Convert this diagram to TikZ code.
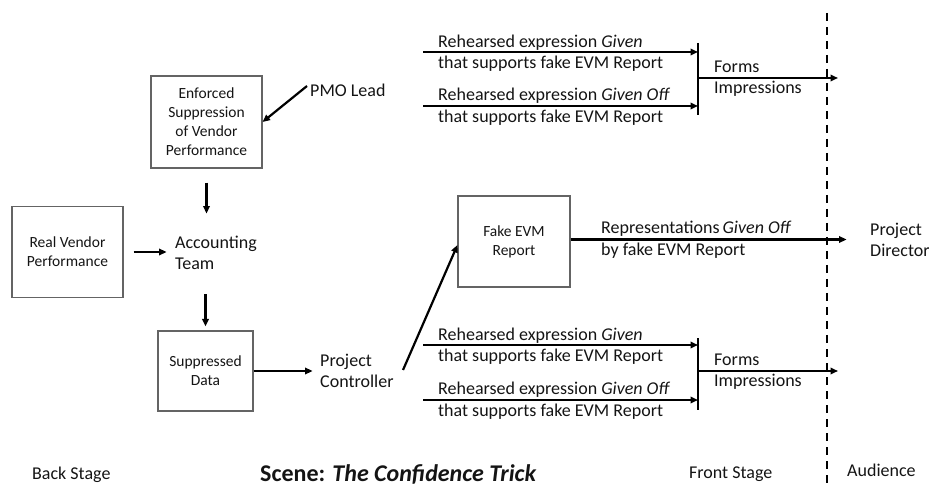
\documentclass[tikz,border=0pt]{standalone}
\usepackage{fontspec}
\setmainfont{Carlito}
\usetikzlibrary{arrows.meta,calc}
\definecolor{boxgray}{RGB}{100,100,100}
\definecolor{txt}{RGB}{20,20,20}
\begin{document}
\begin{tikzpicture}[x=1pt,y=-1pt,
  big/.style={font=\fontsize{18}{21.5}\selectfont, text=txt, inner sep=0pt, align=left, anchor=west},
  box/.style={draw=boxgray, line width=1.1pt, font=\fontsize{15.5}{19}\selectfont, text=txt, align=center, inner sep=0pt},
  arr/.style={line width=2.2pt, -{Triangle[length=7.5pt,width=6.5pt]}},
  bar/.style={line width=2.4pt},
]
\useasboundingbox (0,0) rectangle (929,486);

% boxes
\node[box, minimum width=111pt, minimum height=92pt] (enf) at (206.5,122) {Enforced\\Suppression\\of Vendor\\Performance};
\node[box, minimum width=111pt, minimum height=91pt] (real) at (67.5,252) {Real Vendor\\Performance};
\node[box, minimum width=95pt, minimum height=80pt] (supp) at (205.5,371) {Suppressed\\Data};
\node[box, minimum width=112pt, minimum height=91pt] (fake) at (514,241.5) {Fake EVM\\Report};

% plain text nodes
\node[big] (pmo) at (310,90) {PMO Lead};
\node[big] (acct) at (175,253) {Accounting\\Team};
\node[big] (ctrl) at (320,371) {Project\\Controller};
\node[big] (reh1) at (438,53) {Rehearsed expression \textit{Given}\\that supports fake EVM Report};
\node[big] (reh2) at (438,106.5) {Rehearsed expression \textit{Given Off}\\that supports fake EVM Report};
\node[big] (reh3) at (438,346) {Rehearsed expression \textit{Given}\\that supports fake EVM Report};
\node[big] (reh4) at (438,400.5) {Rehearsed expression \textit{Given Off}\\that supports fake EVM Report};
\node[big] (forms1) at (714,78.5) {Forms\\Impressions};
\node[big] (forms2) at (714,371.5) {Forms\\Impressions};
\node[big] (rep) at (601,239.5) {Representations\,\textit{Given Off}\\by fake EVM Report};
\node[big] (pd) at (870,240) {Project\\Director};
\node[big] (back) at (32,475) {Back Stage};
\node[big, font=\fontsize{24}{28}\selectfont\bfseries] (scene) at (260,474) {Scene: \textit{The Confidence Trick}};
\node[big] (front) at (689,474) {Front Stage};
\node[big] (aud) at (847,470) {Audience};

% coordinates
\coordinate (pmoout) at (307,86);
\coordinate (ctrlout) at (403,370);
\coordinate (in1) at (423,52);
\coordinate (in2) at (423,106);
\coordinate (in3) at (423,345);
\coordinate (in4) at (423,400);
\coordinate (bar1t) at (698,43);
\coordinate (bar1b) at (698,115);
\coordinate (bar2t) at (698,338);
\coordinate (bar2b) at (698,410);
\coordinate (out1) at (838,78);
\coordinate (out2) at (838,371);
\coordinate (dtop) at (827,13);
\coordinate (dbot) at (827,486);

% connectors
\draw[arr] (pmoout) -- (enf.east);
\draw[arr, shorten <=14pt] (enf.south) -- ++(0,45);
\draw[arr, shorten <=10pt] (real.east) -- ++(43,0);
\draw[arr, shorten >=4pt] ($(supp.north)+(0,-36)$) -- (supp.north);
\draw[arr] (supp.east) -- ++(59,0);
\draw[arr] (ctrlout) -- ([yshift=-3.5pt]fake.west);
\draw[arr] ([yshift=2pt]fake.east) -- ++(276,0);

\draw[bar] (bar1t) -- (bar1b);
\draw[bar] (bar2t) -- (bar2b);
\draw[arr] (in1) -- (in1 -| bar1t);
\draw[arr] (in2) -- (in2 -| bar1t);
\draw[arr] (in3) -- (in3 -| bar2t);
\draw[arr] (in4) -- (in4 -| bar2t);
\draw[arr] (out1 -| bar1t) -- (out1);
\draw[arr] (out2 -| bar2t) -- (out2);

\draw[line width=2.2pt, dash pattern=on 8pt off 6pt] (dtop) -- (dbot);
\end{tikzpicture}
\end{document}
